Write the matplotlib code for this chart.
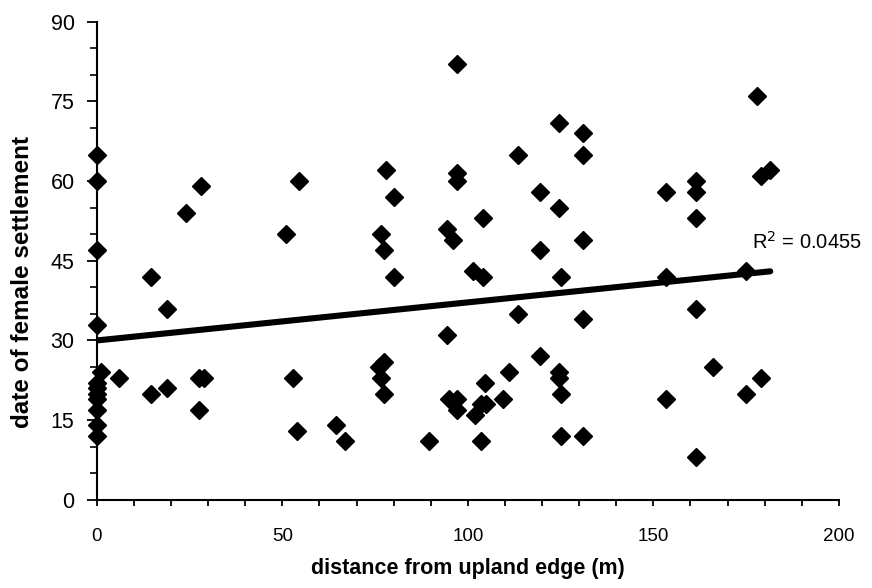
import matplotlib
matplotlib.use('Agg')
import matplotlib.pyplot as plt
from matplotlib.ticker import MultipleLocator

plt.rcParams['font.family'] = ['Liberation Sans', 'DejaVu Sans']

# distance from upland edge (m)
distance = [0, 0, 0, 0, 1, 0, 0, 0, 0, 0, 0, 0,
            6, 14.5, 14.5, 19, 19, 24, 28, 27.5, 29, 27.5,
            51, 54.5, 53, 54, 64.5, 67,
            76.5, 78, 80, 77.5, 80, 77.5, 76, 76.5, 77.5,
            94.5, 96, 97, 97, 97, 94.5, 95, 97, 97, 89.5,
            101.5, 104, 104, 104.5, 102, 103.5, 105, 103.5,
            109.5, 111, 113.5, 113.5, 119.5, 119.5, 119.5,
            124.5, 124.5, 125, 124.5, 124.5, 125, 125,
            131, 131, 131, 131, 131,
            153.5, 153.5, 153.5, 161.5, 161.5, 161.5, 161.5, 161.5, 166,
            175, 175, 178, 179, 179, 181.5]
# date of female settlement
settle = [65, 60, 47, 33, 24, 22, 21, 20, 19, 17, 14, 12,
          23, 42, 20, 36, 21, 54, 59, 23, 23, 17,
          50, 60, 23, 13, 14, 11,
          50, 62, 57, 47, 42, 26, 25, 23, 20,
          51, 49, 82, 61.5, 60, 31, 19, 19, 17, 11,
          43, 42, 53, 22, 16, 18, 18, 11,
          19, 24, 65, 35, 58, 47, 27,
          71, 55, 42, 24, 23, 20, 12,
          69, 65, 49, 34, 12,
          58, 42, 19, 60, 58, 53, 36, 8, 25,
          43, 20, 76, 23, 61, 62]

trend_intercept = 30.0
trend_slope = 0.0717
r2_label = 'R$^2$ = 0.0455'

fig = plt.figure(figsize=(8.72, 5.88), dpi=100)
ax = fig.add_axes([0.111, 0.150, 0.851, 0.813])

ax.plot(distance, settle, 'D', color='black', markersize=9, linestyle='none',
        clip_on=False, zorder=3)

x_end = max(distance)
ax.plot([0, x_end], [trend_intercept, trend_intercept + trend_slope * x_end],
        color='black', linewidth=4.4, solid_capstyle='round', zorder=4)

ax.text(176.5, 48.5, r2_label, fontsize=14.5, va='center', ha='left')

ax.set_xlim(0, 200)
ax.set_ylim(0, 90)
ax.xaxis.set_major_locator(MultipleLocator(50))
ax.xaxis.set_minor_locator(MultipleLocator(10))
ax.yaxis.set_major_locator(MultipleLocator(15))
ax.yaxis.set_minor_locator(MultipleLocator(5))

for side in ['top', 'right']:
    ax.spines[side].set_visible(False)
for side in ['left', 'bottom']:
    ax.spines[side].set_linewidth(1.5)

ax.tick_params(axis='y', which='major', length=7, width=1.3, labelsize=15.5, pad=9)
ax.tick_params(axis='y', which='minor', length=5, width=1.2)
ax.tick_params(axis='x', which='both', length=4, width=1.3, labelsize=13.5, pad=16)

ax.set_xlabel('distance from upland edge (m)', fontsize=15.5, fontweight='heavy', labelpad=10)
ax.set_ylabel('date of female settlement', fontsize=17.5, fontweight='heavy')
ax.yaxis.set_label_coords(-0.084, 0.456)

fig.savefig('out.png', dpi=100)
